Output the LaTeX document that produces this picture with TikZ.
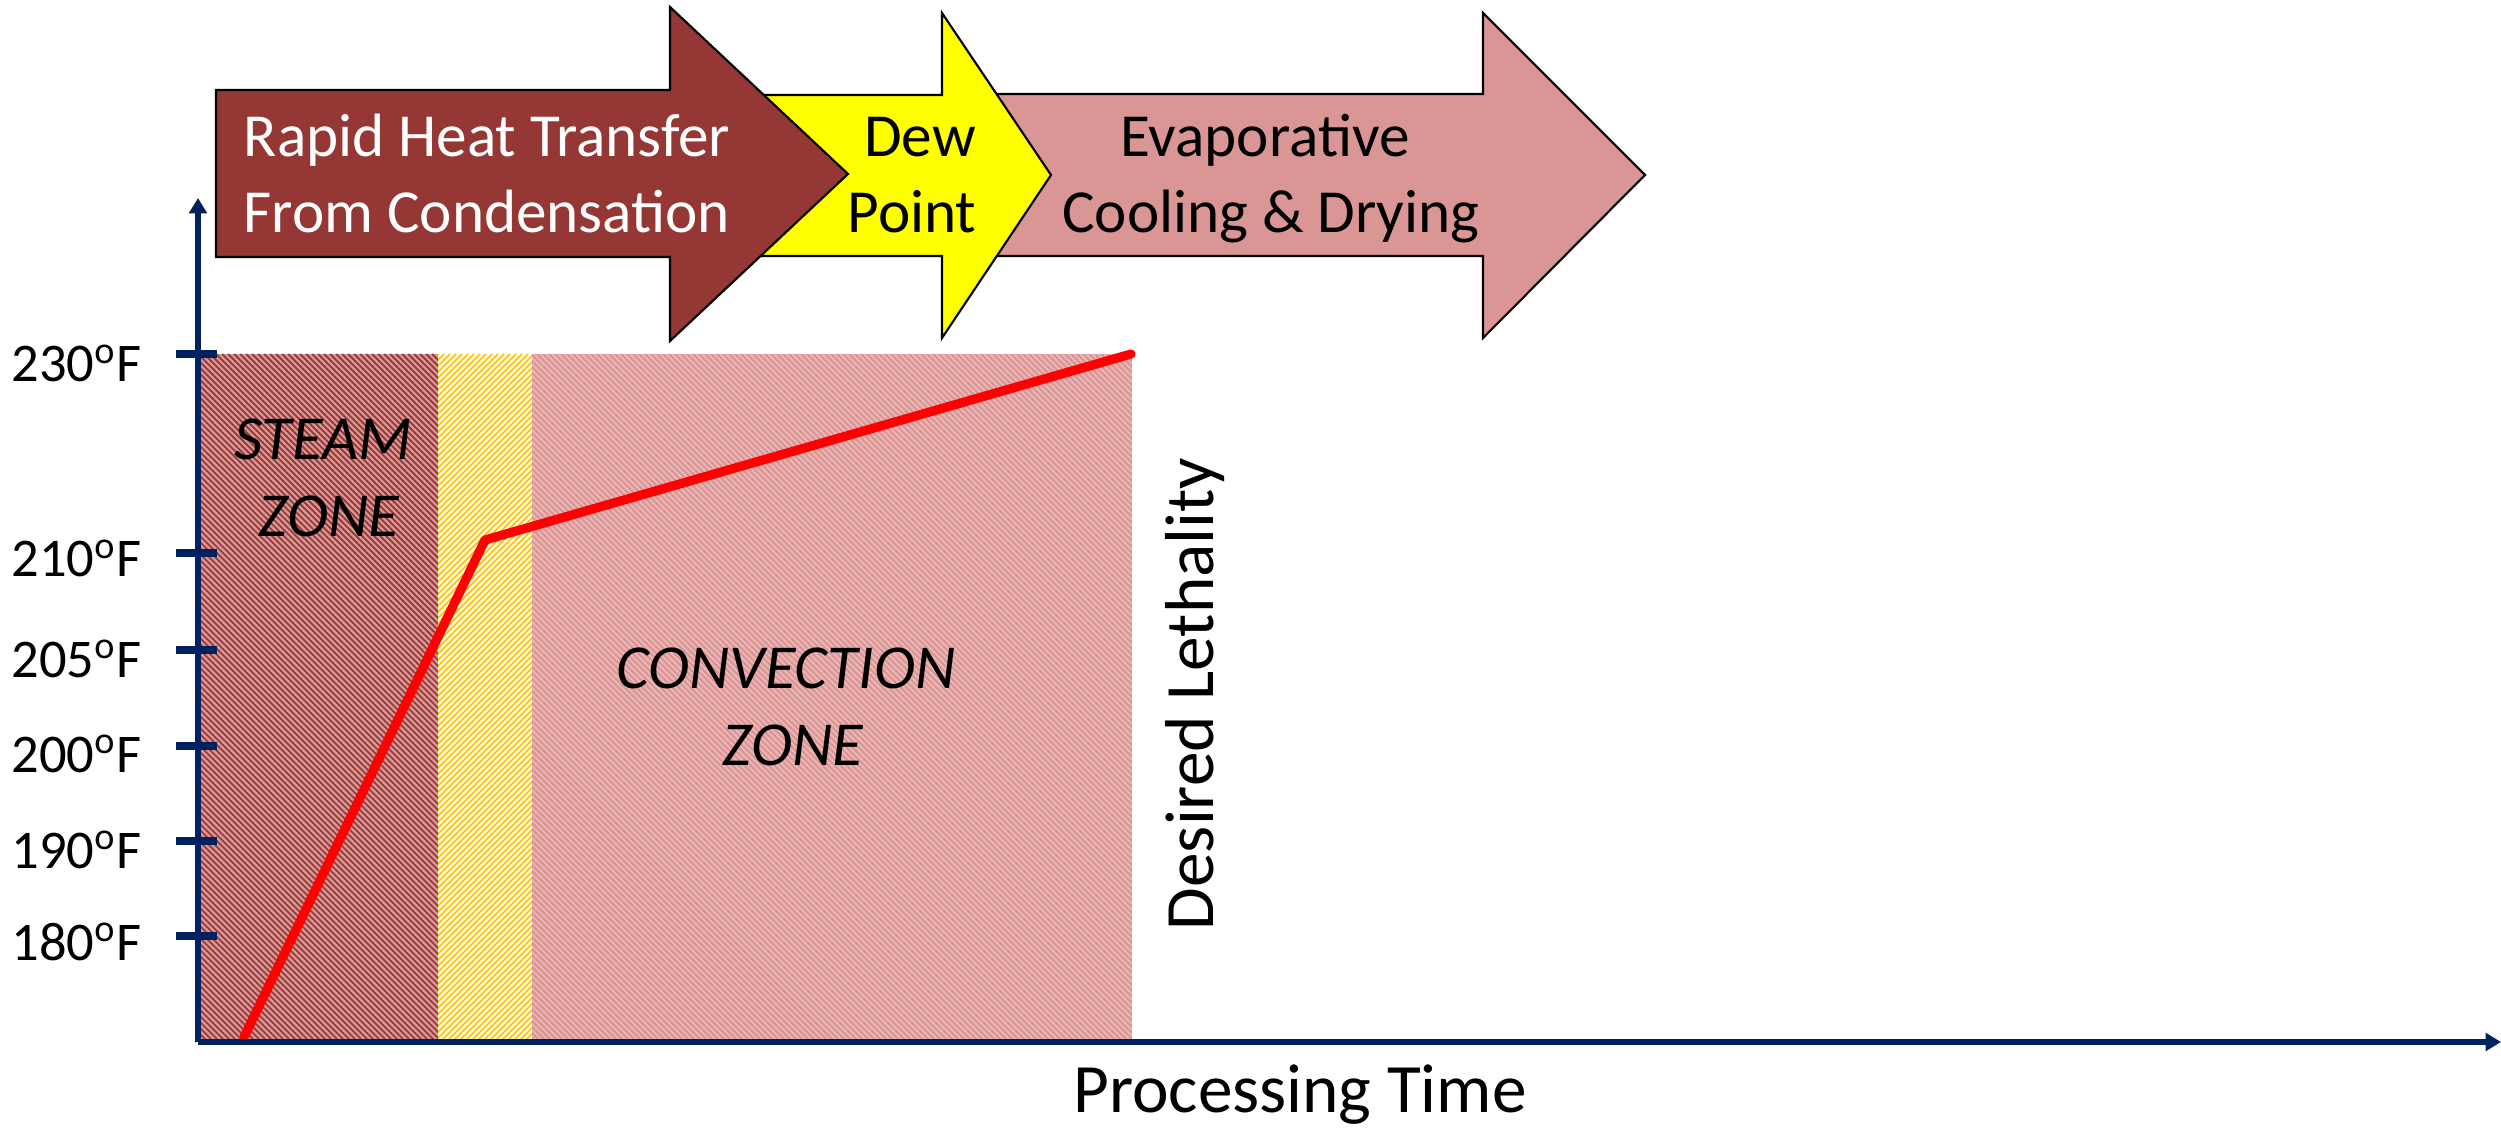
\documentclass[tikz,border=0pt]{standalone}
\usepackage{fontspec}
\setmainfont{Carlito}
\usetikzlibrary{arrows.meta}
\definecolor{axisblue}{HTML}{002060}
\definecolor{darkred}{HTML}{953735}
\definecolor{rosepink}{HTML}{D99694}
\definecolor{lightrose}{HTML}{E9BAB9}
\definecolor{goldhatch}{HTML}{FFC000}
\definecolor{linered}{HTML}{FF0000}
\definecolor{dewyellow}{HTML}{FFFF00}
\tikzset{
  axisline/.style={draw=axisblue, line width=1.7pt, -{Triangle[width=5pt,length=4.4pt]}},
  tickmark/.style={draw=axisblue, line width=2pt},
  templabel/.style={anchor=base east, inner sep=0pt, font=\fontsize{15.5}{18}\selectfont},
  arrowshape/.style={draw=black, line width=0.6pt, line join=miter},
  arrowtext/.style={anchor=base, inner sep=0pt, font=\fontsize{17.4}{20}\selectfont},
  zonetext/.style={anchor=base, inner sep=0pt, font=\fontsize{17.8}{20}\selectfont\itshape},
  bigtext/.style={anchor=base, inner sep=0pt, font=\fontsize{19.7}{22}\selectfont},
  hatch/.style={line width=0.5pt},
  profile/.style={draw=linered, line width=2.6pt, line cap=round, line join=round}
}
\begin{document}
\begin{tikzpicture}[x=0.01cm,y=-0.01cm]
\useasboundingbox (0,0) rectangle (2501,1128);

% ---- zones ----
% steam zone
\begin{scope}
  \clip (195,354) rectangle (438,1042);
  \fill[rosepink] (195,354) rectangle (438,1042);
  \foreach \c in {-852,-846,...,90} {
    \draw[hatch, darkred] ({\c+354},354) -- ({\c+1042},1042);
  }
\end{scope}
% dew point zone
\begin{scope}
  \clip (438,354) rectangle (532,1042);
  \fill[white] (438,354) rectangle (532,1042);
  \foreach \c in {786,792,...,1580} {
    \draw[hatch, goldhatch, line width=0.45pt] ({\c-354},354) -- ({\c-1042},1042);
  }
\end{scope}
% convection zone
\begin{scope}
  \clip (532,354) rectangle (1132,1042);
  \fill[rosepink] (532,354) rectangle (1132,1042);
  \foreach \c in {-516,-510,...,784} {
    \draw[hatch, lightrose] ({\c+354},354) -- ({\c+1042},1042);
  }
\end{scope}

% ---- temperature profile ----
\coordinate (p0) at (244,1037);
\coordinate (p1) at (485,540);
\coordinate (p2) at (1131,354);
\draw[profile] (p0) -- (p1) -- (p2);

% ---- axes ----
\coordinate (origin) at (198,1042);
\coordinate (ytop) at (198,198);
\coordinate (xend) at (2501,1042);
\draw[axisline] (origin) -- (ytop);
\draw[axisline] (origin) -- (xend);

\foreach \ty/\nm in {354/t230, 553/t210, 650/t205, 746/t200, 841/t190, 936/t180} {
  \coordinate (\nm a) at (176,\ty);
  \coordinate (\nm b) at (217,\ty);
  \draw[tickmark] (\nm a) -- (\nm b);
}

\node[templabel] (l230) at (142,382) {230\textsuperscript{o}F};
\node[templabel] (l210) at (142,577) {210\textsuperscript{o}F};
\node[templabel] (l205) at (142,677) {205\textsuperscript{o}F};
\node[templabel] (l200) at (142,772) {200\textsuperscript{o}F};
\node[templabel] (l190) at (142,868) {190\textsuperscript{o}F};
\node[templabel] (l180) at (142,960) {180\textsuperscript{o}F};

% ---- zone labels ----
\node[zonetext] (steam1) at (323,460) {STEAM};
\node[zonetext] (steam2) at (329,537) {ZONE};
\node[zonetext] (conv1) at (786,688) {CONVECTION};
\node[zonetext] (conv2) at (793,765) {ZONE};

\node[bigtext, rotate=90] (lethal) at (1213,694) {Desired Lethality};
\node[bigtext] (ptime) at (1300,1112) {Processing Time};

% ---- process arrows ----
\draw[arrowshape, fill=rosepink] (980,94) -- (1483,94) -- (1483,13) -- (1645,175) -- (1483,338) -- (1483,256) -- (980,256) -- cycle;
\draw[arrowshape, fill=dewyellow] (740,95) -- (942,95) -- (942,13) -- (1051,175) -- (942,338) -- (942,256) -- (740,256) -- cycle;
\draw[arrowshape, fill=darkred] (216,90) -- (670,90) -- (670,7) -- (848,174) -- (670,341) -- (670,257) -- (216,257) -- cycle;

\node[arrowtext, text=white] (rapid1) at (487,157) {Rapid Heat Transfer};
\node[arrowtext, text=white] (rapid2) at (487,233) {From Condensation};
\node[arrowtext] (dew1) at (920,157) {Dew};
\node[arrowtext] (dew2) at (912,233) {Point};
\node[arrowtext] (evap1) at (1265,157) {Evaporative};
\node[arrowtext] (evap2) at (1271,233) {Cooling \& Drying};
\end{tikzpicture}
\end{document}
